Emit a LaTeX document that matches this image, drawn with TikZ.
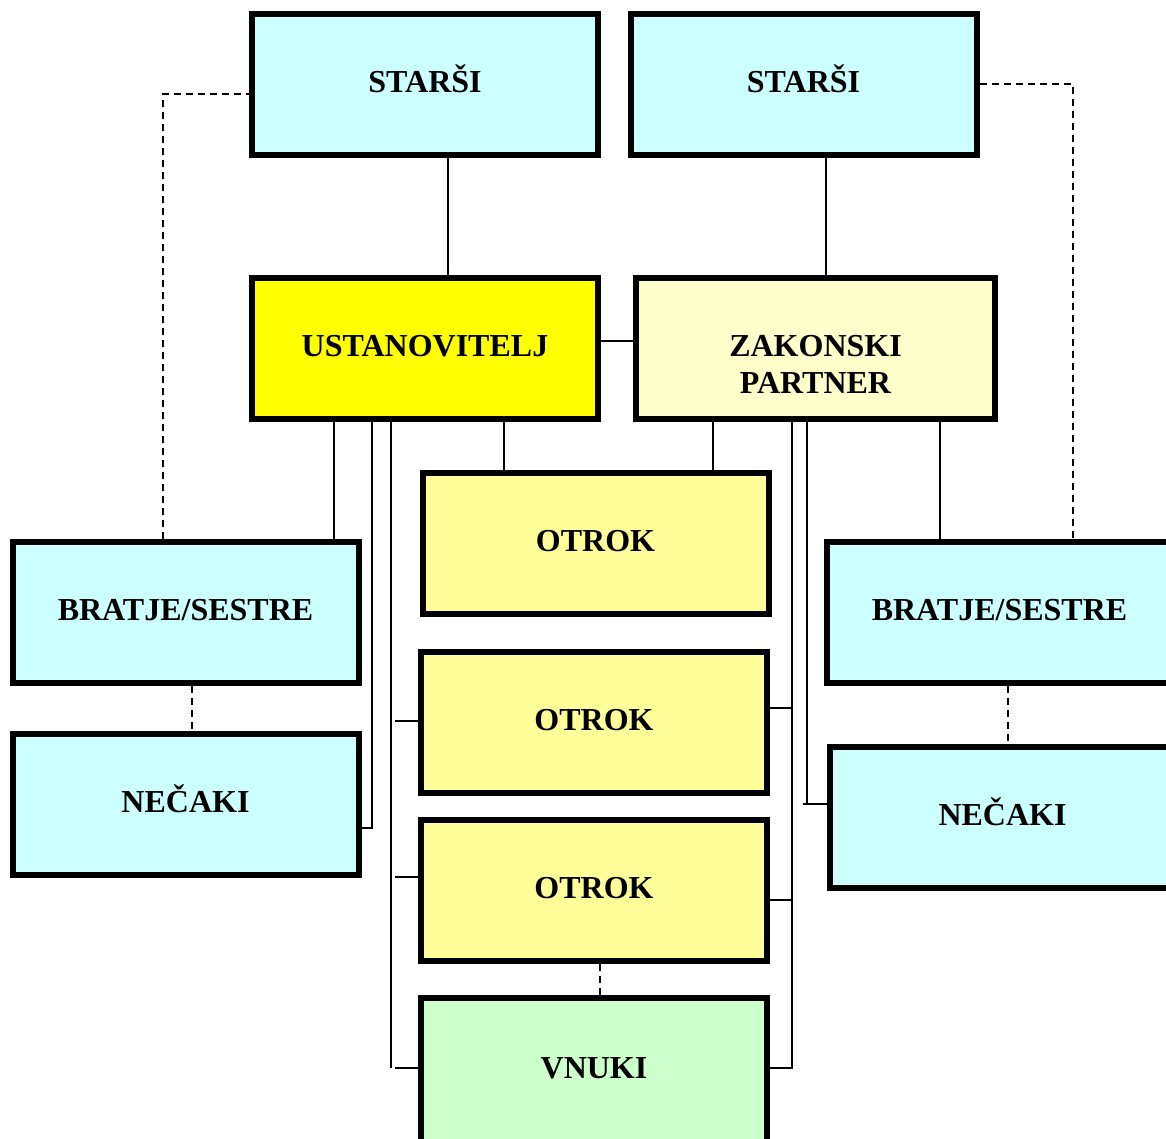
\documentclass[tikz,border=0pt]{standalone}
\usepackage{fontspec}
\setmainfont{Liberation Serif}
\usetikzlibrary{backgrounds}
\definecolor{kinblue}{HTML}{CCFFFF}
\definecolor{founderyellow}{HTML}{FFFF00}
\definecolor{partnercream}{HTML}{FFFFCC}
\definecolor{childyellow}{HTML}{FFFF99}
\definecolor{grandgreen}{HTML}{CCFFCC}
\begin{document}
\begin{tikzpicture}[x=1pt, y=-1pt,
  box/.style={draw=black, line width=6pt, minimum width=346pt,
    minimum height=141pt, inner sep=0pt,
    font=\fontsize{32}{37}\selectfont\bfseries,
    text height=21.5pt, text depth=5.5pt},
  kinbox/.style={box, fill=kinblue},
  founderbox/.style={box, fill=founderyellow},
  partnerbox/.style={box, fill=partnercream, minimum width=359pt},
  childbox/.style={box, fill=childyellow},
  grandbox/.style={box, fill=grandgreen, minimum height=144pt},
  link/.style={draw=black, line width=1.5pt},
  dlink/.style={draw=black, line width=1.5pt, dash pattern=on 7pt off 5pt}]

\useasboundingbox (0,0) rectangle (1166,1138);
\clip (0,0) rectangle (1166,1138);

% family boxes
\node[kinbox]     (s1) at (425,84)      {STARŠI};
\node[kinbox]     (s2) at (803.5,84)    {STARŠI};
\node[founderbox] (u)  at (425,348)     {USTANOVITELJ};
\node[partnerbox] (zp) at (815.5,348)   {};
\node[anchor=north, inner sep=0pt, align=center,
      font=\fontsize{32}{37}\selectfont\bfseries] (zpt) at (815.5,335) {ZAKONSKI\\PARTNER};
\node[childbox]   (o1) at (595.5,543.5) {OTROK};
\node[childbox]   (o2) at (594,722.5)   {OTROK};
\node[childbox]   (o3) at (594,890.5)   {OTROK};
\node[grandbox]   (vn) at (594,1070)    {VNUKI};
\node[kinbox]     (bl) at (185.5,612.5) {BRATJE/SESTRE};
\node[kinbox]     (nl) at (185.5,804.5) {NEČAKI};
\node[kinbox]     (br) at (999.5,612.5) {BRATJE/SESTRE};
\node[kinbox]     (nr) at (1002.5,817.5){NEČAKI};

% columns and rows used by the connectors
\coordinate (xa) at (334,0);
\coordinate (xb) at (372,0);
\coordinate (xc) at (391,0);
\coordinate (xd) at (504,0);
\coordinate (xe) at (713,0);
\coordinate (xf) at (792,0);
\coordinate (xg) at (807,0);
\coordinate (xh) at (940,0);
\coordinate (xt1) at (448,0);
\coordinate (xt2) at (826,0);
\coordinate (xdl) at (163,0);
\coordinate (xdr) at (1073,0);
\coordinate (xn1) at (192,0);
\coordinate (xn2) at (1008,0);
\coordinate (xv) at (600,0);
\coordinate (ym) at (0,341);
\coordinate (ynl) at (0,828);
\coordinate (ynr) at (0,804);
\coordinate (yl2) at (0,721);
\coordinate (yl3) at (0,877);
\coordinate (yr2) at (0,708);
\coordinate (yr3) at (0,900);
\coordinate (yv) at (0,1068);
\coordinate (ydl) at (0,94);
\coordinate (ydr) at (0,84);
\coordinate (lstub) at (395,0);
\coordinate (rstub) at (803,0);

\begin{scope}[on background layer]
  % parents
  \draw[link] (s1.south -| xt1) -- (u.north -| xt1);
  \draw[link] (s2.south -| xt2) -- (zp.north -| xt2);
  \draw[link] (u.east |- ym) -- (zp.west |- ym);
  % founder's side
  \draw[link] (u.south -| xa) -- (bl.north -| xa);
  \draw[link] (u.south -| xb) |- (nl.east |- ynl);
  \draw[link] (u.south -| xc) -- (xc |- yv);
  \draw[link] (lstub |- yl2) -- (o2.west |- yl2);
  \draw[link] (lstub |- yl3) -- (o3.west |- yl3);
  \draw[link] (lstub |- yv) -- (vn.west |- yv);
  \draw[link] (u.south -| xd) -- (o1.north -| xd);
  % partner's side
  \draw[link] (zp.south -| xe) -- (o1.north -| xe);
  \draw[link] (zp.south -| xf) |- (vn.east |- yv);
  \draw[link] (o2.east |- yr2) -- (xf |- yr2);
  \draw[link] (o3.east |- yr3) -- (xf |- yr3);
  \draw[link] (zp.south -| xg) -- (xg |- ynr);
  \draw[link] (rstub |- ynr) -- (nr.west |- ynr);
  \draw[link] (zp.south -| xh) -- (br.north -| xh);
  % dashed relations
  \draw[dlink] (bl.north -| xdl) |- (s1.west |- ydl);
  \draw[dlink] (s2.east |- ydr) -| (br.north -| xdr);
  \draw[dlink] (bl.south -| xn1) -- (nl.north -| xn1);
  \draw[dlink] (br.south -| xn2) -- (nr.north -| xn2);
  \draw[dlink] (o3.south -| xv) -- (vn.north -| xv);
\end{scope}
\end{tikzpicture}
\end{document}
